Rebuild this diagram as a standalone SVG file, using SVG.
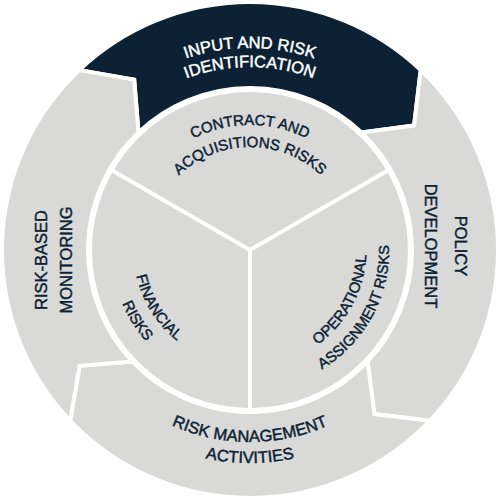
<svg xmlns="http://www.w3.org/2000/svg" width="500" height="500" viewBox="0 0 500 500">
<style>
.seg{fill:#d9d9d8;stroke:#fff;stroke-width:4;stroke-linejoin:miter}
.dark{fill:#0c2234}
.spoke{stroke:#fff;stroke-width:4;fill:none}
.t{font-family:"Liberation Sans",Arial,sans-serif;fill:#0c2234;stroke:#0c2234;stroke-width:0.45;text-anchor:middle}
.o{font-size:16.5px}
.i{font-size:15px}
.w{fill:#ffffff;stroke:#ffffff}
</style>
<defs>
<path id="pTop1" d="M48,250 A202,202 0 0 1 452,250"/>
<path id="pTop2" d="M67,250 A183,183 0 0 1 433,250"/>
<path id="pCon1" d="M125,250 A125,125 0 0 1 375,250"/>
<path id="pCon2" d="M147,250 A103,103 0 0 1 353,250"/>
<path id="pBot1" d="M58,250 A192,192 0 0 0 442,250"/>
<path id="pBot2" d="M37,250 A213,213 0 0 0 463,250"/>
<path id="pFin1" d="M187.4,153.5 A115,115 0 0 0 309.2,348.6"/>
<path id="pFin2" d="M174.8,134.3 A138,138 0 0 0 321.1,368.3"/>
<path id="pOp1" d="M196.0,353.8 A117,117 0 0 0 307.6,148.2"/>
<path id="pOp2" d="M185.8,373.3 A139,139 0 0 0 318.4,129.0"/>
</defs>
<g id="input-risk-identification">
<path class="seg dark" d="M79.3,70.1 A248,248 0 0 1 420.7,70.1 L414.1,125.5 L361.5,132.5 A162,162 0 0 0 138.5,132.5 L134.2,79.6 Z"/>
<text class="t o w"><textPath href="#pTop1" startOffset="50%">INPUT AND RISK</textPath></text>
<text class="t o w"><textPath href="#pTop2" startOffset="50%">IDENTIFICATION</textPath></text>
</g>
<g id="policy-development">
<path class="seg" d="M420.7,70.1 A248,248 0 0 1 429.9,420.7 L374.5,414.1 L367.5,361.5 A162,162 0 0 0 361.5,132.5 L414.1,125.5 Z"/>
<text class="t o" x="455" y="246" transform="rotate(90 455 246)">POLICY</text>
<text class="t o" x="425" y="246" transform="rotate(90 425 246)">DEVELOPMENT</text>
</g>
<g id="risk-management-activities">
<path class="seg" d="M429.9,420.7 A248,248 0 0 1 70.1,420.7 L79.6,365.8 L132.5,361.5 A162,162 0 0 0 367.5,361.5 L374.5,414.1 Z"/>
<text class="t o"><textPath href="#pBot1" startOffset="50%">RISK MANAGEMENT</textPath></text>
<text class="t o"><textPath href="#pBot2" startOffset="50%">ACTIVITIES</textPath></text>
</g>
<g id="risk-based-monitoring">
<path class="seg" d="M70.1,420.7 A248,248 0 0 1 79.3,70.1 L134.2,79.6 L138.5,132.5 A162,162 0 0 0 132.5,361.5 L79.6,365.8 Z"/>
<text class="t o" x="47" y="260" transform="rotate(-90 47 260)">RISK-BASED</text>
<text class="t o" x="72" y="260" transform="rotate(-90 72 260)">MONITORING</text>
</g>
<g id="inner-disc">
<circle cx="250" cy="250" r="160" fill="#d9d9d8" stroke="#fff" stroke-width="4"/>
</g>
<g id="connectors">
<line class="spoke" x1="250" y1="250" x2="109.7" y2="169"/>
<line class="spoke" x1="250" y1="250" x2="390.3" y2="169"/>
<line class="spoke" x1="250" y1="250" x2="250" y2="412"/>
</g>
<g id="contract-acquisitions-risks">
<text class="t i"><textPath href="#pCon1" startOffset="50%">CONTRACT AND</textPath></text>
<text class="t i"><textPath href="#pCon2" startOffset="50%">ACQUISITIONS RISKS</textPath></text>
</g>
<g id="financial-risks">
<text class="t i"><textPath href="#pFin1" startOffset="50%">FINANCIAL</textPath></text>
<text class="t i"><textPath href="#pFin2" startOffset="50%">RISKS</textPath></text>
</g>
<g id="operational-assignment-risks">
<text class="t i"><textPath href="#pOp1" startOffset="50%">OPERATIONAL</textPath></text>
<text class="t i"><textPath href="#pOp2" startOffset="50%">ASSIGNMENT RISKS</textPath></text>
</g>
</svg>
